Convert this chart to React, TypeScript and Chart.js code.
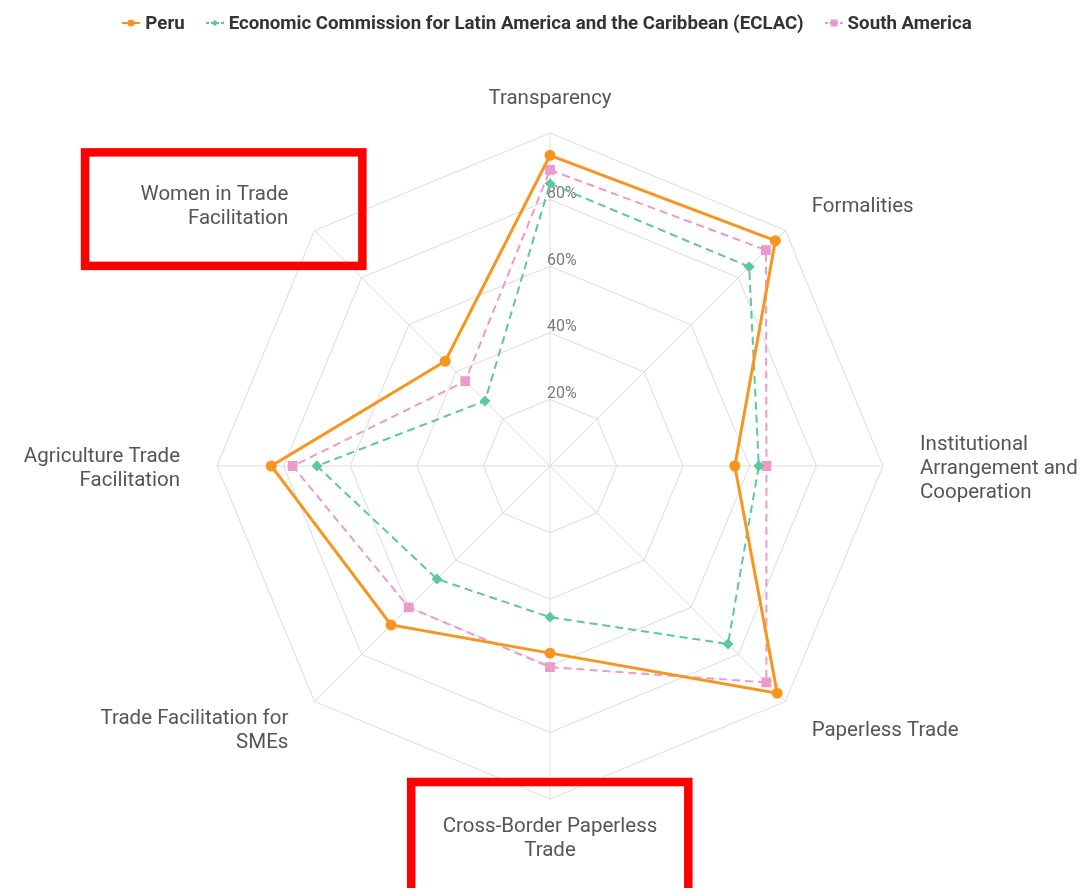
import React, { useEffect, useRef } from "react";
import { Chart, registerables } from "chart.js";

Chart.register(...registerables);

const categories: string[][] = [
  ["Transparency"],
  ["Formalities"],
  ["Institutional", "Arrangement and", "Cooperation"],
  ["Paperless Trade"],
  ["Cross-Border Paperless", "Trade"],
  ["Trade Facilitation for", "SMEs"],
  ["Agriculture Trade", "Facilitation"],
  ["Women in Trade", "Facilitation"],
];
const peru = [93.3, 95.7, 55.5, 96.5, 56.2, 67.5, 83.7, 44.5];
const eclac = [84.8, 84.6, 62.7, 75.6, 45.4, 48.0, 70.0, 27.6];
const southAmerica = [88.9, 91.7, 65.0, 91.9, 60.4, 60.0, 77.3, 36.0];
const tickValues = [20, 40, 60, 80];
const seriesNames = ["Peru", "Economic Commission for Latin America and the Caribbean (ECLAC)", "South America"];
const highlightedCategories = [7, 4];

const ORANGE = "#F7951E";
const GREEN = "#5CC99A";
const PINK = "#EE99CC";
const seriesColors = [ORANGE, GREEN, PINK];
const seriesMarkers = ["circle", "rectRot", "rect"];

const LABEL_FONT = "20.5px Roboto";
const LABEL_LINE = 24;
const LABEL_GAP = 37;
const LABEL_SHIFT = 3;

function Marker({ color, style, dashed }: { color: string; style: string; dashed: boolean }) {
  let shape;
  if (style === "circle") shape = <circle cx={9} cy={5} r={3.6} fill={color} />;
  else if (style === "rectRot") shape = <polygon points="9,1.8 12.2,5 9,8.2 5.8,5" fill={color} />;
  else shape = <rect x={5.5} y={1.5} width={7} height={7} fill={color} />;
  return (
    <svg width={18} height={10} style={{ display: "block" }}>
      <line x1={0} y1={5} x2={18} y2={5} stroke={color} strokeWidth={2} strokeDasharray={dashed ? "3 2" : undefined} />
      {shape}
    </svg>
  );
}

function labelAlign(i: number, n: number) {
  const deg = (i * 360) / n;
  if (deg === 0 || deg === 180) return "center";
  return deg < 180 ? "left" : "right";
}

const tickLabelPlugin = {
  id: "tickLabelPlugin",
  beforeDatasetsDraw(chart: any) {
    const scale = chart.scales.r;
    const ctx = chart.ctx;
    ctx.save();
    ctx.font = "16px Roboto";
    ctx.fillStyle = "#7a7a7a";
    ctx.textAlign = "left";
    ctx.textBaseline = "middle";
    tickValues.forEach((v) => {
      const d = scale.getDistanceFromCenterForValue(v);
      ctx.fillText(v + "%", scale.xCenter - 3, scale.yCenter - d - 5.5);
    });
    ctx.restore();
  },
};

function labelBlock(ctx: CanvasRenderingContext2D, scale: any, i: number) {
  const lines = categories[i];
  const pos = scale.getPointPosition(i, scale.drawingArea + LABEL_GAP);
  const align = labelAlign(i, categories.length);
  const w = Math.max(...lines.map((l) => ctx.measureText(l).width));
  const h = lines.length * LABEL_LINE;
  const left = align === "left" ? pos.x : align === "right" ? pos.x - w : pos.x - w / 2;
  const top = pos.y - h / 2;
  return { lines, pos, align, left, top, right: left + w, bottom: top + h };
}

const pointLabelPlugin = {
  id: "pointLabelPlugin",
  afterDraw(chart: any) {
    const scale = chart.scales.r;
    const ctx = chart.ctx;
    ctx.save();
    ctx.font = LABEL_FONT;
    ctx.fillStyle = "#555";
    ctx.textBaseline = "middle";
    categories.forEach((_, i) => {
      const b = labelBlock(ctx, scale, i);
      ctx.textAlign = b.align;
      b.lines.forEach((line, k) => {
        ctx.fillText(line, b.pos.x, b.top + LABEL_LINE * (k + 0.5) + LABEL_SHIFT);
      });
    });
    ctx.restore();
  },
};

const boxPadding: Record<number, number[]> = {
  7: [55.5, 28, 74, 37.5],
  4: [31.5, 30, 31, 45],
};

const highlightPlugin = {
  id: "highlightPlugin",
  afterDraw(chart: any) {
    const scale = chart.scales.r;
    const ctx = chart.ctx;
    ctx.save();
    ctx.font = LABEL_FONT;
    ctx.strokeStyle = "#FF0000";
    ctx.lineWidth = 8.5;
    highlightedCategories.forEach((i) => {
      const b = labelBlock(ctx, scale, i);
      const p = boxPadding[i];
      ctx.strokeRect(b.left - p[0], b.top - p[1], b.right - b.left + p[0] + p[2], b.bottom - b.top + p[1] + p[3]);
    });
    ctx.restore();
  },
};

export default function App() {
  const ref = useRef<HTMLCanvasElement>(null);
  useEffect(() => {
    const chart = new Chart(ref.current!, {
      type: "radar",
      data: {
        labels: categories,
        datasets: [
          {
            label: seriesNames[0],
            data: peru,
            borderColor: ORANGE,
            backgroundColor: ORANGE,
            borderWidth: 3,
            pointStyle: "circle",
            pointRadius: 4,
            fill: false,
          },
          {
            label: seriesNames[1],
            data: eclac,
            borderColor: GREEN,
            backgroundColor: GREEN,
            borderWidth: 2,
            borderDash: [8, 5],
            pointStyle: "rectRot",
            pointRadius: 4,
            fill: false,
          },
          {
            label: seriesNames[2],
            data: southAmerica,
            borderColor: PINK,
            backgroundColor: PINK,
            borderWidth: 2,
            borderDash: [8, 5],
            pointStyle: "rect",
            pointRadius: 5.5,
            fill: false,
          },
        ],
      },
      options: {
        animation: false,
        responsive: true,
        maintainAspectRatio: false,
        layout: { padding: { top: 125, bottom: 89, left: 14, right: 0 } },
        plugins: {
          tooltip: { enabled: false },
          legend: { display: false },
        },
        scales: {
          r: {
            min: 0,
            max: 100,
            ticks: { stepSize: 20, display: false },
            grid: { color: "#dcdcdc", lineWidth: 1 },
            angleLines: { color: "#dcdcdc", lineWidth: 1 },
            pointLabels: { display: false },
          },
        },
      },
      plugins: [tickLabelPlugin, pointLabelPlugin, highlightPlugin],
    });
    return () => chart.destroy();
  }, []);
  return (
    <div style={{ width: 1070, height: 880, position: "relative" }}>
      <div
        style={{
          position: "absolute",
          top: 1,
          left: 0,
          right: 0,
          height: 28,
          display: "flex",
          justifyContent: "center",
          alignItems: "center",
          gap: 21,
          paddingLeft: 8,
          fontFamily: "Roboto",
          fontWeight: "bold",
          fontSize: 18.7,
          color: "#333",
          lineHeight: "28px",
        }}
      >
        {seriesNames.map((name, i) => (
          <div key={name} style={{ display: "flex", alignItems: "center", gap: 5 }}>
            <Marker color={seriesColors[i]} style={seriesMarkers[i]} dashed={i > 0} />
            <span>{name}</span>
          </div>
        ))}
      </div>
      <canvas ref={ref} />
    </div>
  );
}
